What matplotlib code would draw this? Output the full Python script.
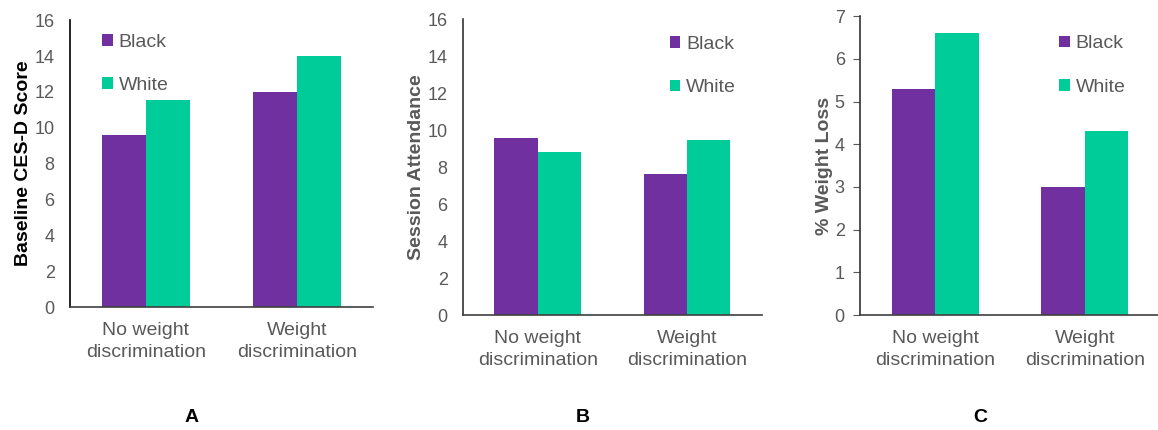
import matplotlib.pyplot as plt
import numpy as np

plt.rcParams['font.family'] = ['Liberation Sans', 'DejaVu Sans']

groups = ["No weight\ndiscrimination", "Weight\ndiscrimination"]
series = ["Black", "White"]

cesd_black = [9.6, 12.0]
cesd_white = [11.55, 14.0]
attend_black = [9.6, 7.6]
attend_white = [8.8, 9.45]
loss_black = [5.3, 3.0]
loss_white = [6.6, 4.3]

purple = "#7030A0"
green = "#00CC99"
grey = "#595959"

fig = plt.figure(figsize=(11.58, 4.30), dpi=100)

panels = [
    # rect, black, white, ymax, yticks, ylabel, ylabel colour, letter, legend anchor, tick marks
    ([0.0604, 0.286, 0.2617, 0.667], cesd_black, cesd_white, 16, np.arange(0, 17, 2),
     "Baseline CES-D Score", "black", "A", (0.106, 0.952), False),
    ([0.3998, 0.2674, 0.258, 0.688], attend_black, attend_white, 16, np.arange(0, 17, 2),
     "Session Attendance", grey, "B", (0.692, 0.943), False),
    ([0.7427, 0.2674, 0.259, 0.695], loss_black, loss_white, 7, np.arange(0, 8, 1),
     "% Weight Loss", grey, "C", (0.664, 0.936), True),
]

x = np.arange(len(groups))
w = 0.29
for rect, b, wh, ymax, yt, ylab, ycol, letter, anchor, ticks in panels:
    ax = fig.add_axes(rect)
    ax.bar(x - w / 2, b, w, color=purple, label=series[0])
    ax.bar(x + w / 2, wh, w, color=green, label=series[1])
    ax.set_xlim(-0.5, 1.5)
    ax.set_ylim(0, ymax)
    ax.set_yticks(yt)
    ax.set_xticks(x)
    ax.set_xticklabels(groups, fontsize=14, color=grey, linespacing=1.35)
    if ticks:
        ax.tick_params(axis='y', labelsize=13, labelcolor=grey, length=5, color=grey, pad=6)
    else:
        ax.tick_params(axis='y', labelsize=13, labelcolor=grey, length=0, pad=11)
    ax.tick_params(axis='x', length=0, pad=11)
    for s in ['top', 'right']:
        ax.spines[s].set_visible(False)
    ax.spines['left'].set_color("black" if letter == "A" else "#333333")
    ax.spines['bottom'].set_color("#404040")
    ax.spines['left'].set_linewidth(1.2)
    ax.spines['bottom'].set_linewidth(1.2)
    ax.set_ylabel(ylab, fontsize=14, fontweight='bold', color=ycol, labelpad=1.5)
    ax.legend(loc='upper left', bbox_to_anchor=anchor, frameon=False, borderpad=0,
              borderaxespad=0, fontsize=14, labelcolor=grey, handlelength=0.55,
              handleheight=0.55, handletextpad=0.3, labelspacing=1.35)
    # panel letter, centred at pixel row 417 of the figure
    ly = ax.transAxes.inverted().transform((0, 430 - 417))[1]
    ax.text(0.40, ly, letter, transform=ax.transAxes, fontsize=14, fontweight='bold',
            ha='center', va='center')

fig.savefig("out.png", dpi=100)
